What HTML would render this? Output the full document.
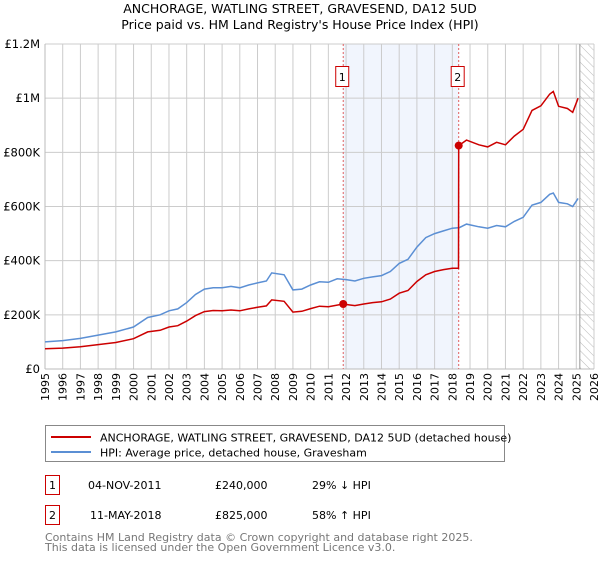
<!DOCTYPE html>
<html><head><meta charset="utf-8"><style>
body{margin:0;background:#fff;font-family:"Liberation Sans","DejaVu Sans",sans-serif;}
svg text{font-family:"DejaVu Sans","Liberation Sans",sans-serif;}
</style></head><body>
<svg width="600" height="560" viewBox="0 0 600 560">
<defs><pattern id="hatch" width="6" height="6" patternUnits="userSpaceOnUse" patternTransform="rotate(-45)"><line x1="0" y1="0" x2="0" y2="6" stroke="#bbb" stroke-width="1"/></pattern></defs>
<text x="300" y="13" text-anchor="middle" font-size="12.5">ANCHORAGE, WATLING STREET, GRAVESEND, DA12 5UD</text>
<text x="300" y="29" text-anchor="middle" font-size="12.5">Price paid vs. HM Land Registry's House Price Index (HPI)</text>
<g id="plot"></g>
<g>
<rect x="45.5" y="425.5" width="459" height="36" fill="#fff" stroke="#888"/>
<line x1="51" y1="437" x2="91" y2="437" stroke="#cc0000" stroke-width="2"/>
<text x="100" y="441.5" font-size="11">ANCHORAGE, WATLING STREET, GRAVESEND, DA12 5UD (detached house)</text>
<line x1="51" y1="452" x2="91" y2="452" stroke="#5b8fd4" stroke-width="2"/>
<text x="100" y="456.5" font-size="11">HPI: Average price, detached house, Gravesham</text>
</g>
<g>
<rect x="45.5" y="475.5" width="14" height="19" fill="#fff" stroke="#cc0000"/>
<text x="52.5" y="489" text-anchor="middle" font-size="11">1</text>
<text x="88" y="489" font-size="11">04-NOV-2011</text>
<text x="215" y="489" font-size="11">£240,000</text>
<text x="312" y="489" font-size="11">29% ↓ HPI</text>
<rect x="45.5" y="505.5" width="14" height="19" fill="#fff" stroke="#cc0000"/>
<text x="52.5" y="519" text-anchor="middle" font-size="11">2</text>
<text x="90" y="519" font-size="11">11-MAY-2018</text>
<text x="215" y="519" font-size="11">£825,000</text>
<text x="312" y="519" font-size="11">58% ↑ HPI</text>
</g>
<text x="45" y="541" font-size="11" fill="#777">Contains HM Land Registry data © Crown copyright and database right 2025.</text>
<text x="45" y="551" font-size="11" fill="#777">This data is licensed under the Open Government Licence v3.0.</text>
</svg>
<script>
const hpiYears=[1995,1996,1997,1998,1999,2000,2000.8,2001.5,2002,2002.5,2003,2003.5,2004,2004.5,2005,2005.5,2006,2006.5,2007,2007.5,2007.8,2008.5,2009,2009.5,2010,2010.5,2011,2011.5,2012,2012.5,2013,2013.5,2014,2014.5,2015,2015.5,2016,2016.5,2017,2017.5,2018,2018.4,2018.8,2019.5,2020,2020.5,2021,2021.5,2022,2022.5,2023,2023.5,2023.7,2024,2024.5,2024.8,2025.1];
const hpiValues=[100,105,113,125,137,155,190,200,215,222,245,275,295,300,300,305,300,310,318,325,355,348,292,295,310,322,320,333,330,325,335,340,345,360,390,405,450,485,500,510,520,522,535,525,520,530,525,545,560,605,615,645,650,615,610,600,630];
const redYears=[1995,1996,1997,1998,1999,2000,2000.8,2001.5,2002,2002.5,2003,2003.5,2004,2004.5,2005,2005.5,2006,2006.5,2007,2007.5,2007.8,2008.5,2009,2009.5,2010,2010.5,2011,2011.84,2012,2012.5,2013,2013.5,2014,2014.5,2015,2015.5,2016,2016.5,2017,2017.5,2018,2018.35,2018.36,2018.8,2019.5,2020,2020.5,2021,2021.5,2022,2022.5,2023,2023.5,2023.7,2024,2024.5,2024.8,2025.1];
const redValues=[75,77,82,90,98,112,137,143,155,160,177,197,212,216,215,218,215,222,228,233,255,250,210,213,223,232,230,240,238,234,240,245,248,258,280,290,323,348,360,367,372,372,825,845,828,820,837,828,860,885,955,972,1015,1025,970,962,948,1000];
const saleYears=[2011.84,2018.36];
const saleValues=[240,825];
const saleLabels=['1','2'];
const yTicks=[0,200,400,600,800,1000,1200];
const yTickLabels=['£0','£200K','£400K','£600K','£800K','£1M','£1.2M'];
const xTicks=[1995,1996,1997,1998,1999,2000,2001,2002,2003,2004,2005,2006,2007,2008,2009,2010,2011,2012,2013,2014,2015,2016,2017,2018,2019,2020,2021,2022,2023,2024,2025,2026];

const X0=45,X1=594,Y0=369,Y1=44;
const xs=y=>X0+(y-1995)/(2026-1995)*(X1-X0);
const ys=v=>Y0-v/1200*(Y0-Y1);
const NS='http://www.w3.org/2000/svg';
const g=document.getElementById('plot');
function mk(t,a,p){const e=document.createElementNS(NS,t);for(const k in a)e.setAttribute(k,a[k]);(p||g).appendChild(e);return e;}
// shaded band
let band=mk('rect',{x:xs(saleYears[0]),y:Y1,width:xs(saleYears[1])-xs(saleYears[0]),height:Y0-Y1,fill:'#eef3fc',opacity:0.8});


// hatch
let hx=xs(2025.2);
let hat=mk('rect',{x:hx,y:Y1,width:X1-hx,height:Y0-Y1,fill:'url(#hatch)'});


// grid
xTicks.forEach((t,i)=>{
  const l=mk('line',{x1:xs(t),x2:xs(t),y1:Y1,y2:Y0,stroke:'#ccc','stroke-width':1});
  
  
  const tx=mk('text',{x:0,y:0,'font-size':11,'text-anchor':'end',transform:`translate(${xs(t)+4},${Y0+4}) rotate(-90)`});
  tx.textContent=t;
  
  
});
yTicks.forEach((t,i)=>{
  const l=mk('line',{x1:X0,x2:X1,y1:ys(t),y2:ys(t),stroke:'#ccc','stroke-width':1});
  
  
  const tx=mk('text',{x:40,y:ys(t)+4,'font-size':11.5,'text-anchor':'end'});
  tx.textContent=yTickLabels[i];
  
  
});
let ax=mk('line',{x1:X0,x2:X0,y1:Y1,y2:Y0,stroke:'#bbb'});


let ax2=mk('line',{x1:X0,x2:X1,y1:Y0,y2:Y0,stroke:'#bbb'});


let el=mk('line',{x1:hx,x2:hx,y1:Y1,y2:Y0,stroke:'#999'});


// sale markers lines
saleYears.forEach((s,i)=>{
  const l=mk('line',{x1:xs(s),x2:xs(s),y1:Y1,y2:Y0,stroke:'#e06060','stroke-dasharray':'2,2'});
  
  
  const r=mk('rect',{x:xs(s)-7.5,y:66.5,width:13,height:20,fill:'#fff',stroke:'#cc0000'});
  
  
  const t=mk('text',{x:xs(s)-1,y:81,'font-size':11,'text-anchor':'middle'});
  t.textContent=saleLabels[i];
  
  
});
function path(xa,va,col,name){
  const d=xa.map((x,i)=>(i?'L':'M')+xs(x).toFixed(1)+','+ys(va[i]).toFixed(1)).join('');
  const p=mk('path',{d:d,fill:'none',stroke:col,'stroke-width':1.5});
  
  
}
path(hpiYears,hpiValues,'#5b8fd4','hpi-line');
path(redYears,redValues,'#cc0000','property-price-line');
saleYears.forEach((s,i)=>{
  const c=mk('circle',{cx:xs(s),cy:ys(saleValues[i]),r:4,fill:'#cc0000'});
  
  
});
</script>
</body></html>
